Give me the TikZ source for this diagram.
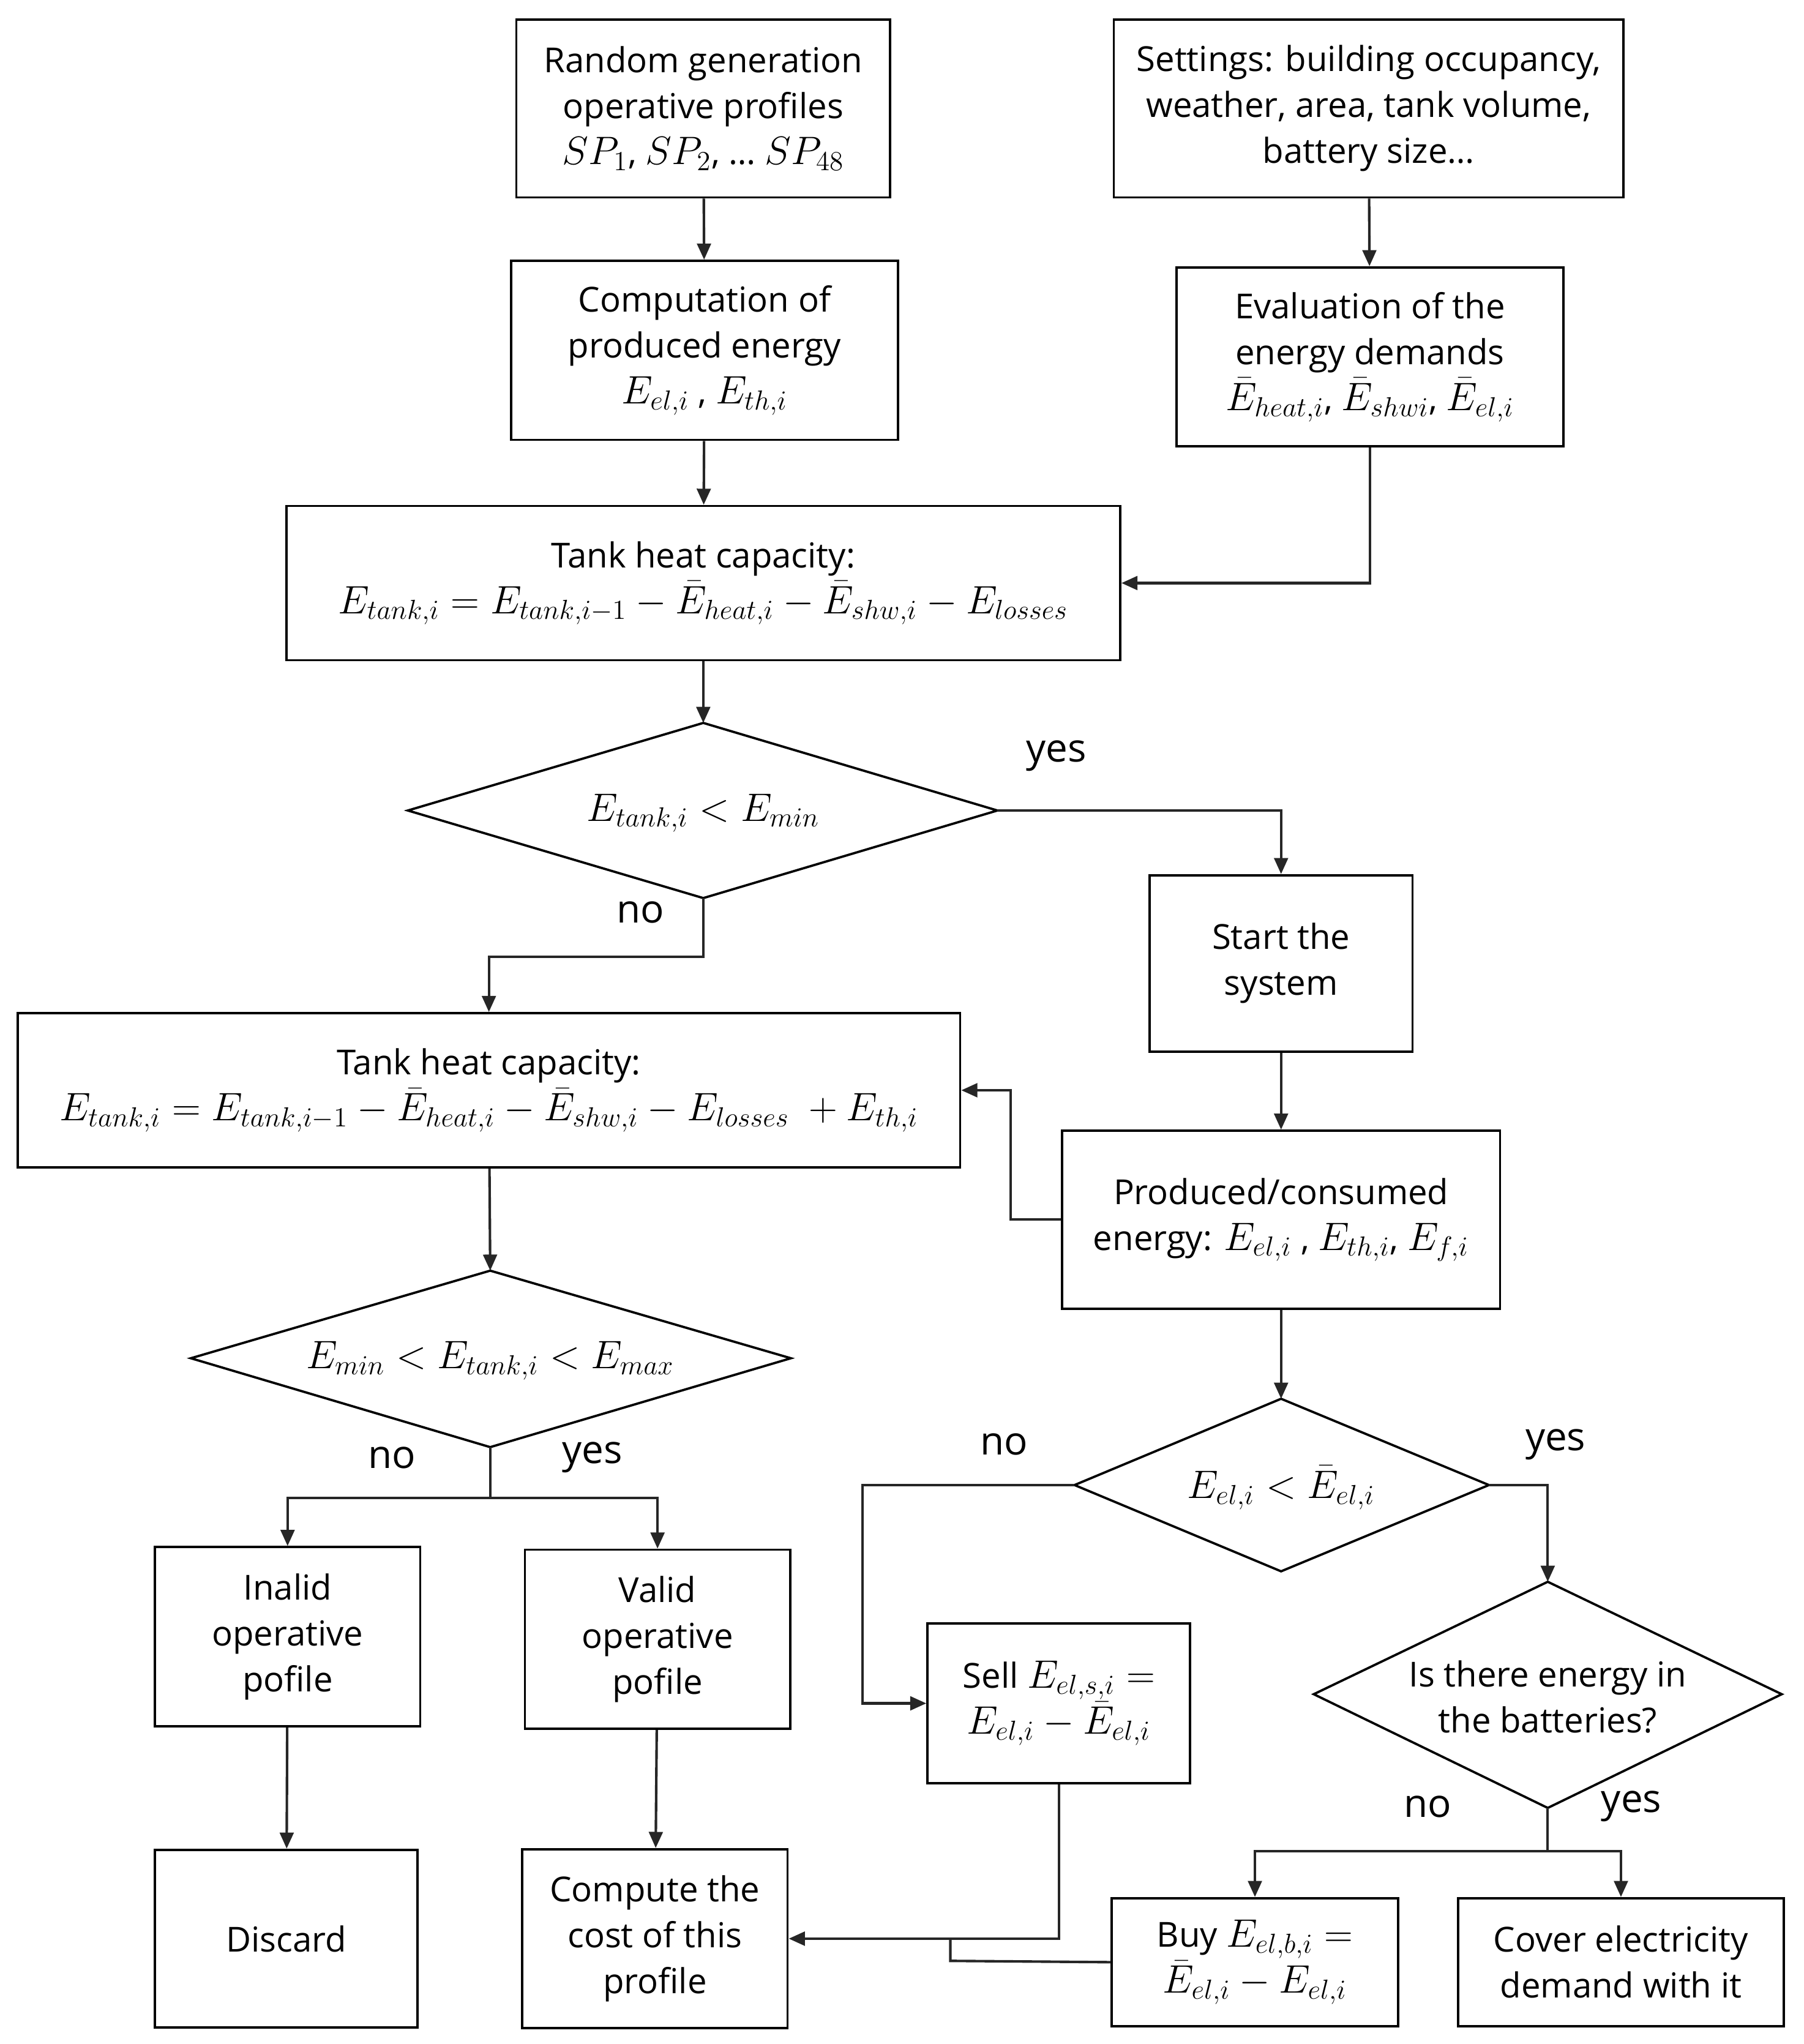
\documentclass[tikz,border=0pt]{standalone}
\usepackage{fontspec}
\setmainfont{Open Sans}
\usetikzlibrary{arrows.meta,shapes.geometric}
\newcommand{\mm}[1]{{\fontsize{18}{20}\selectfont$#1$}}
\begin{document}
\begin{tikzpicture}[x=0.02cm,y=-0.02cm,
  every node/.style={font=\fontsize{15}{20}\selectfont, align=center, inner sep=0pt},
  box/.style={draw, line width=1pt},
  ln/.style={line width=1.1pt, draw=black!85},
  ar/.style={ln, -{Triangle[length=7pt,width=6pt]}},
  lab/.style={font=\fontsize{17}{20}\selectfont}]
\useasboundingbox (0,0) rectangle (1380,1563.6);
\node[box, minimum width=286*0.02cm, minimum height=136*0.02cm] (A) at (538,83) {Random generation\\operative profiles\\\mm{SP_1}, \mm{SP_2}, \dots\ \mm{SP_{48}}};
\node[box, minimum width=390*0.02cm, minimum height=136*0.02cm] (B) at (1047,83) {Settings: building occupancy,\\weather, area, tank volume,\\battery size\dots};
\node[box, minimum width=296*0.02cm, minimum height=137*0.02cm] (C) at (539,268) {Computation of\\produced energy\\\mm{E_{el,i}} , \mm{E_{th,i}}};
\node[box, minimum width=296*0.02cm, minimum height=137*0.02cm] (D) at (1048,273) {Evaluation of the\\energy demands\\\mm{\bar E_{heat,i}}, \mm{\bar E_{shwi}}, \mm{\bar E_{el,i}}};
\node[box, minimum width=638*0.02cm, minimum height=118*0.02cm] (E) at (538,446) {Tank heat capacity:\\\mm{E_{tank,i}=E_{tank,i-1}-\bar E_{heat,i}-\bar E_{shw,i}-E_{losses}}};
\draw[line width=1pt] (312,620) coordinate (Fw) -- (538,553) coordinate (Fn) -- (763,620) coordinate (Fe) -- (538,687) coordinate (Fs) -- cycle;
\node (F) at (538,622) {\mm{E_{tank,i}<E_{min}}};
\node[box, minimum width=201*0.02cm, minimum height=135*0.02cm] (G) at (980,737) {Start the\\system};
\node[box, minimum width=721*0.02cm, minimum height=118*0.02cm] (H) at (374,834) {Tank heat capacity:\\\mm{E_{tank,i}=E_{tank,i-1}-\bar E_{heat,i}-\bar E_{shw,i}-E_{losses}\ +E_{th,i}}};
\node[box, minimum width=335*0.02cm, minimum height=136*0.02cm] (I) at (980,933) {Produced/consumed\\energy: \mm{E_{el,i}} , \mm{E_{th,i}}, \mm{E_{f,i}}};
\draw[line width=1pt] (146,1039) coordinate (Jw) -- (375,972) coordinate (Jn) -- (605,1039) coordinate (Je) -- (375,1107) coordinate (Js) -- cycle;
\node (J) at (375,1041) {\mm{E_{min}<E_{tank,i}<E_{max}}};
\draw[line width=1pt] (822,1136) coordinate (Kw) -- (980,1070) coordinate (Kn) -- (1139,1136) coordinate (Ke) -- (980,1202) coordinate (Ks) -- cycle;
\node (K) at (980,1138) {\mm{E_{el,i}<\bar E_{el,i}}};
\node[box, minimum width=203*0.02cm, minimum height=137*0.02cm] (L) at (220,1252) {Inalid\\operative\\pofile};
\node[box, minimum width=203*0.02cm, minimum height=137*0.02cm] (M) at (503,1254) {Valid\\operative\\pofile};
\node[box, minimum width=201*0.02cm, minimum height=122*0.02cm] (N) at (810,1303) {Sell \mm{E_{el,s,i}=}\\\mm{E_{el,i}-\bar E_{el,i}}};
\draw[line width=1pt] (1005,1296) coordinate (Ow) -- (1184,1210) coordinate (On) -- (1363,1296) coordinate (Oe) -- (1184,1383) coordinate (Os) -- cycle;
\node (O) at (1184,1298) {Is there energy in\\the batteries?};
\node[box, minimum width=201*0.02cm, minimum height=136*0.02cm] (P) at (219,1483) {Discard};
\node[box, minimum width=203*0.02cm, minimum height=137*0.02cm] (Q) at (501,1483) {Compute the\\cost of this\\profile};
\node[box, minimum width=219*0.02cm, minimum height=98*0.02cm] (R) at (960,1501) {Buy \mm{E_{el,b,i}=}\\\mm{\bar E_{el,i}-E_{el,i}}};
\node[box, minimum width=249*0.02cm, minimum height=98*0.02cm] (S) at (1240,1501) {Cover electricity\\demand with it};
% edges
\draw[ar] (A) -- (C);
\draw[ar] (B) -- (D);
\draw[ar] (D.south) |- (E.east);
\draw[ar] (C) -- (E);
\draw[ar] (E) -- (Fn);
\draw[ar] (Fe) -| (G.north);
\draw[ar] (Fs) -- (538,732) -| (H.north);
\draw[ar] (G) -- (I);
\draw[ar] (I.west) -- (773,933) |- (H.east);
\draw[ar] (H) -- (Jn);
\draw[ar] (Js) -- (375,1146) -| (L.north);
\draw[ar] (375,1146) -| (M.north);
\draw[ar] (I) -- (Kn);
\draw[ar] (Kw) -- (660,1136) |- (N.west);
\draw[ar] (Ke) -| (On);
\draw[ar] (Os) -- (1184,1416) -| (R.north);
\draw[ar] (1184,1416) -| (S.north);
\draw[ar] (L) -- (P);
\draw[ar] (M) -- (Q);
\draw[ar] (N.south) |- (Q.east);
\draw[ln] (R.west) -- (727,1500) -- (727,1483);
% labels
\node[lab] at (808,578) {yes};
\node[lab] at (490,698) {no};
\node[lab] at (300,1115) {no};
\node[lab] at (453,1115) {yes};
\node[lab] at (768,1105) {no};
\node[lab] at (1190,1105) {yes};
\node[lab] at (1092,1382) {no};
\node[lab] at (1248,1382) {yes};
\end{tikzpicture}
\end{document}
